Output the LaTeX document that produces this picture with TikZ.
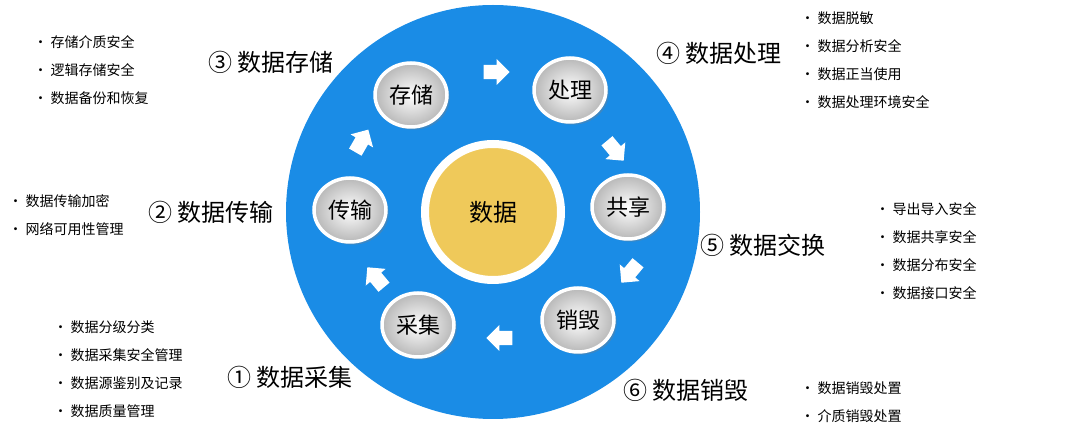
\documentclass[tikz,border=0pt]{standalone}
\usepackage{fontspec}
\setmainfont{Noto Sans CJK SC}
\usetikzlibrary{shapes.arrows,shapes.geometric,shadows}
\definecolor{ringblue}{HTML}{1A8CE6}
\definecolor{coreyellow}{HTML}{EFC95A}
\begin{document}
\begin{tikzpicture}[x=1pt,y=-1pt,
stepnode/.style={ellipse, draw=white, line width=3.5pt, minimum width=72pt, minimum height=64pt,
  inner color=white, outer color=black!28, font=\fontsize{22}{22}\selectfont, drop shadow={opacity=0.35}},
flowarrow/.style={single arrow, fill=white, minimum height=26pt, minimum width=26pt,
  single arrow head extend=5pt, inner sep=6pt},
title/.style={font=\fontsize{24}{24}\selectfont, anchor=west},
items/.style={font=\fontsize{14}{28}\selectfont, align=left, anchor=west},
]
\useasboundingbox (0,0) rectangle (1080,435);
%Ring
\fill[ringblue] (493,212) circle (207);
\node[circle, fill=coreyellow, draw=white, line width=8pt, minimum size=136pt,
  font=\fontsize{24}{24}\selectfont] (core) at (493,212) {数据};
%Steps
\node[stepnode] (store)   at (411,95)  {存储};
\node[stepnode] (process) at (570,90)  {处理};
\node[stepnode] (share)   at (628,207) {共享};
\node[stepnode] (destroy) at (578,320) {销毁};
\node[stepnode] (collect) at (418,325) {采集};
\node[stepnode] (trans)   at (350,210) {传输};
%Arrows
\node[flowarrow, rotate=0]    (a1) at (493,72)  {};
\node[flowarrow, rotate=-50]  (a2) at (613,148) {};
\node[flowarrow, rotate=-130] (a3) at (632,270) {};
\node[flowarrow, rotate=180]  (a4) at (503,338) {};
\node[flowarrow, rotate=130]  (a5) at (378,280) {};
\node[flowarrow, rotate=60]   (a6) at (360,144) {};
%Titles
\node[title] (t3) at (205,62)  {③ 数据存储};
\node[title] (t4) at (653,53)  {④ 数据处理};
\node[title] (t2) at (145,212) {② 数据传输};
\node[title] (t5) at (697,245) {⑤ 数据交换};
\node[title] (t1) at (224,377) {① 数据采集};
\node[title] (t6) at (620,390) {⑥ 数据销毁};
%Lists
\node[items] (l3) at (30,70)  {• 存储介质安全\\• 逻辑存储安全\\• 数据备份和恢复};
\node[items] (l4) at (797,60) {• 数据脱敏\\• 数据分析安全\\• 数据正当使用\\• 数据处理环境安全};
\node[items] (l2) at (5,215)  {• 数据传输加密\\• 网络可用性管理};
\node[items] (l5) at (872,251){• 导出导入安全\\• 数据共享安全\\• 数据分布安全\\• 数据接口安全};
\node[items] (l1) at (50,369) {• 数据分级分类\\• 数据采集安全管理\\• 数据源鉴别及记录\\• 数据质量管理};
\node[items] (l6) at (797,402){• 数据销毁处置\\• 介质销毁处置};
\end{tikzpicture}
\end{document}
